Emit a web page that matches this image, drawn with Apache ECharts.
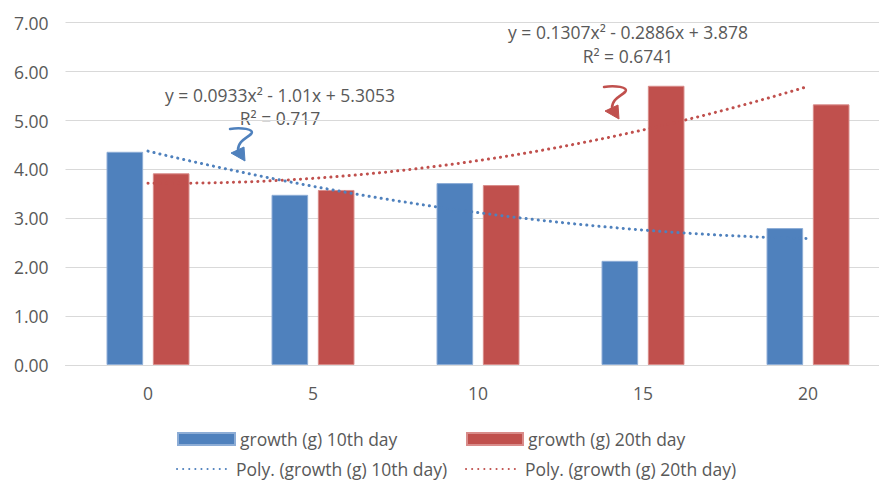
<!DOCTYPE html>
<html>
<head>
<meta charset="utf-8">
<script src="https://cdn.jsdelivr.net/npm/echarts@6/dist/echarts.min.js"></script>
<style>
html,body{margin:0;padding:0;background:#fff;}
#c{width:879px;height:483px;}
</style>
</head>
<body>
<div id="c"></div>
<script>
// ---- data ----
var categories = ['0', '5', '10', '15', '20'];
var growth10 = [4.36, 3.48, 3.72, 2.13, 2.80];
var growth20 = [3.92, 3.58, 3.68, 5.71, 5.33];
var yTicks = [0, 1, 2, 3, 4, 5, 6, 7];
var eq10 = ['y = 0.0933x\u00B2 - 1.01x + 5.3053', 'R\u00B2 = 0.717'];
var eq20 = ['y = 0.1307x\u00B2 - 0.2886x + 3.878', 'R\u00B2 = 0.6741'];

// least squares quadratic fit (Excel "Poly." trendline, x = 1..n)
function polyFit(ys) {
  var n = ys.length, S = [0,0,0,0,0], T = [0,0,0];
  for (var i = 0; i < n; i++) {
    var x = i + 1;
    for (var p = 0; p < 5; p++) S[p] += Math.pow(x, p);
    for (var q = 0; q < 3; q++) T[q] += ys[i] * Math.pow(x, q);
  }
  var A = [[S[0],S[1],S[2],T[0]],[S[1],S[2],S[3],T[1]],[S[2],S[3],S[4],T[2]]];
  for (var c = 0; c < 3; c++) {
    for (var r = c + 1; r < 3; r++) {
      var f = A[r][c] / A[c][c];
      for (var k = c; k < 4; k++) A[r][k] -= f * A[c][k];
    }
  }
  var b = [0,0,0];
  for (var r2 = 2; r2 >= 0; r2--) {
    var s = A[r2][3];
    for (var k2 = r2 + 1; k2 < 3; k2++) s -= A[r2][k2] * b[k2];
    b[r2] = s / A[r2][r2];
  }
  return b; // [c0, c1, c2]
}
function trend(ys) {
  var b = polyFit(ys), out = [];
  var n = ys.length;
  for (var j = 0; j <= 80; j++) {
    var x = 1 + (n - 1) * j / 80;
    out.push([x, b[0] + b[1] * x + b[2] * x * x]);
  }
  return out;
}

var BLUE = '#4F81BD', RED = '#C0504D', TXT = '#595959', GRID = '#D9D9D9';
var FONT = 'Open Sans';
var FS = 17.5;

var chart = echarts.init(document.getElementById('c'), null, {renderer: 'svg'});

function arrow(x, y, color) {
  var st = {fill: null, stroke: color, lineWidth: 2.5, lineCap: 'round'};
  return {
    type: 'group', x: x, y: y, silent: true,
    children: [
      {type: 'bezierCurve', shape: {x1: 0, y1: 0, cpx1: 10, cpy1: -2, cpx2: 26, cpy2: 0, x2: 21, y2: 5}, style: st},
      {type: 'bezierCurve', shape: {x1: 21, y1: 5, cpx1: 17, cpy1: 9, cpx2: 8, cpy2: 12, x2: 8, y2: 21}, style: st},
      {type: 'polygon', shape: {points: [[1,24],[14,18],[15,32]]},
       style: {fill: color, stroke: color, lineWidth: 1, lineJoin: 'round'}}
    ]
  };
}
function eqText(lines, cx, y0, y1) {
  return [
    {type: 'text', x: cx, y: y0, silent: true,
     style: {text: lines[0], fill: TXT, font: FS + 'px "' + FONT + '"', align: 'center', verticalAlign: 'middle'}},
    {type: 'text', x: cx, y: y1, silent: true,
     style: {text: lines[1], fill: TXT, font: FS + 'px "' + FONT + '"', align: 'center', verticalAlign: 'middle'}}
  ];
}

var legendText = {color: TXT, fontSize: FS, fontFamily: FONT};
function lg(name, left, top, w, h, isLine) {
  var o = {data: [name], left: left, top: top, itemWidth: w, itemHeight: h, itemGap: 0,
          padding: 0, textStyle: legendText, selectedMode: false};
  if (isLine) o.itemStyle = {opacity: 0};
  else o.icon = 'rect';
  return o;
}

var n10 = 'growth (g) 10th day', n20 = 'growth (g) 20th day';
var p10 = 'Poly. (growth (g) 10th day)', p20 = 'Poly. (growth (g) 20th day)';

var option = {
  backgroundColor: '#fff',
  animation: false,
  textStyle: {fontFamily: FONT},
  grid: {left: 65.5, top: 22.7, width: 825, height: 342.3, containLabel: false, outerBoundsMode: 'none'},
  legend: [
    lg(n10, 177, 430, 57, 12),
    lg(n20, 466, 430, 56, 12),
    lg(p10, 176, 460, 54, 14, true),
    lg(p20, 465, 460, 54, 14, true)
  ],
  xAxis: [
    {type: 'category', data: categories, boundaryGap: true,
     axisLine: {show: true, lineStyle: {color: GRID, width: 1}},
     axisTick: {show: false},
     axisLabel: {color: TXT, fontSize: FS, fontFamily: FONT, margin: 19},
     splitLine: {show: false}},
    {type: 'value', min: 0.5, max: 5.5, show: false, gridIndex: 0,
     splitLine: {show: false}}
  ],
  yAxis: {
    type: 'value', min: yTicks[0], max: yTicks[yTicks.length - 1], interval: 1,
    axisLine: {show: false}, axisTick: {show: false},
    axisLabel: {color: TXT, fontSize: FS, fontFamily: FONT, margin: 17,
                formatter: function (v) { return v.toFixed(2); }},
    splitLine: {lineStyle: {color: GRID, width: 1}}
  },
  series: [
    {name: n10, type: 'bar', data: growth10, barWidth: '22.2%', barGap: '26.5%',
     itemStyle: {color: BLUE, borderColor: '#8DADD6', borderWidth: 1}},
    {name: n20, type: 'bar', data: growth20, barWidth: '22.2%', barGap: '26.5%',
     itemStyle: {color: RED, borderColor: '#D98C8A', borderWidth: 1}},
    {name: p10, type: 'line', xAxisIndex: 1, data: trend(growth10), symbol: 'none', z: 5,
     lineStyle: {color: BLUE, width: 3, type: [0.1, 6], cap: 'round'}, itemStyle: {color: BLUE}},
    {name: p20, type: 'line', xAxisIndex: 1, data: trend(growth20), symbol: 'none', z: 5,
     lineStyle: {color: RED, width: 3, type: [0.1, 6], cap: 'round'}, itemStyle: {color: RED}}
  ],
  graphic: [].concat(
    eqText(eq10, 280, 95, 118),
    eqText(eq20, 628, 32, 56),
    [arrow(230, 129, BLUE), arrow(604, 87, RED)]
  )
};
chart.setOption(option);
</script>
</body>
</html>
